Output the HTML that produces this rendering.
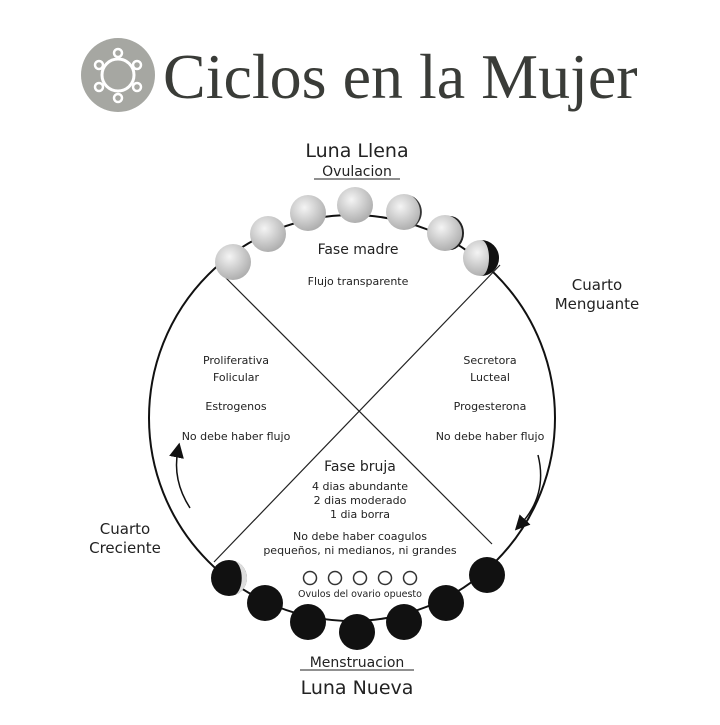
<!DOCTYPE html>
<html><head><meta charset="utf-8"><style>
body{margin:0;width:720px;height:720px;background:#fff;overflow:hidden}
svg text{font-family:"DejaVu Sans","Liberation Sans",sans-serif;fill:#222}
</style></head><body>
<svg width="720" height="720" viewBox="0 0 720 720">
<defs>
<radialGradient id="g" cx="0.4" cy="0.35" r="0.7"><stop offset="0" stop-color="#f4f4f4"/><stop offset="1" stop-color="#aaa"/></radialGradient>
<marker id="ah" markerWidth="10" markerHeight="10" refX="5" refY="5" orient="auto"><path d="M0,0 L10,5 L0,10 z" fill="#111"/></marker>
</defs>
<!-- logo -->
<circle cx="118" cy="75" r="37" fill="#a6a7a2"/>
<circle cx="118" cy="75" r="16" fill="none" stroke="#fff" stroke-width="3"/>
<g fill="none" stroke="#fff" stroke-width="2.5">
<circle cx="118" cy="53" r="4"/><circle cx="137" cy="65" r="4"/><circle cx="137" cy="87" r="4"/>
<circle cx="118" cy="98" r="4"/><circle cx="99" cy="87" r="4"/><circle cx="99" cy="65" r="4"/>
</g>
<text x="163" y="98" style="font-family:'Liberation Serif',serif;font-size:64px;fill:#3a3c38">Ciclos en la Mujer</text>
<!-- circle -->
<circle cx="352" cy="418" r="203" fill="none" stroke="#111" stroke-width="2"/>
<line x1="218" y1="270" x2="492" y2="544" stroke="#222" stroke-width="1.2"/>
<line x1="500" y1="265" x2="214" y2="562" stroke="#222" stroke-width="1.2"/>
<g fill="url(#g)">
<circle cx="233" cy="262" r="18"/><circle cx="268" cy="234" r="18"/><circle cx="308" cy="213" r="18"/>
<circle cx="355" cy="205" r="18"/><circle cx="404" cy="212" r="18"/><circle cx="445" cy="233" r="18"/><circle cx="481" cy="258" r="18"/>
</g>
<path d="M412,196 A18,18 0 0 1 412,228 A20,20 0 0 0 412,196z" fill="#333"/>
<path d="M450,216 A18,18 0 0 1 450,250 A14,17 0 0 0 450,216z" fill="#222"/>
<path d="M481,240 A18,18 0 0 1 481,276 A8,18 0 0 0 481,240z" fill="#111"/>
<g fill="#111">
<circle cx="229" cy="578" r="18"/><circle cx="265" cy="603" r="18"/><circle cx="308" cy="622" r="18"/>
<circle cx="357" cy="632" r="18"/><circle cx="404" cy="622" r="18"/><circle cx="446" cy="603" r="18"/><circle cx="487" cy="575" r="18"/>
</g>
<path d="M235,561 A18,18 0 0 1 235,595 A10,18 0 0 0 235,561z" fill="#ddd"/>
<g fill="none" stroke="#333" stroke-width="1.5">
<circle cx="310" cy="578" r="6.5"/><circle cx="335" cy="578" r="6.5"/><circle cx="360" cy="578" r="6.5"/><circle cx="385" cy="578" r="6.5"/><circle cx="410" cy="578" r="6.5"/>
</g>
<path d="M190,508 Q172,480 178,450" fill="none" stroke="#111" stroke-width="1.5" marker-end="url(#ah)"/>
<path d="M538,455 Q548,495 520,525" fill="none" stroke="#111" stroke-width="1.5" marker-end="url(#ah)"/>
<!-- text -->
<g text-anchor="middle">
<text x="357" y="157" font-size="19">Luna Llena</text>
<text x="357" y="176" font-size="14">Ovulacion</text>
<line x1="314" y1="179" x2="400" y2="179" stroke="#222"/>
<text x="358" y="254" font-size="14">Fase madre</text>
<text x="358" y="285" font-size="11">Flujo transparente</text>
<text x="597" y="290" font-size="15">Cuarto</text>
<text x="597" y="309" font-size="15">Menguante</text>
<text x="236" y="364" font-size="11">Proliferativa</text>
<text x="236" y="381" font-size="11">Folicular</text>
<text x="236" y="410" font-size="11">Estrogenos</text>
<text x="236" y="440" font-size="11">No debe haber flujo</text>
<text x="490" y="364" font-size="11">Secretora</text>
<text x="490" y="381" font-size="11">Lucteal</text>
<text x="490" y="410" font-size="11">Progesterona</text>
<text x="490" y="440" font-size="11">No debe haber flujo</text>
<text x="360" y="471" font-size="14">Fase bruja</text>
<text x="360" y="490" font-size="11">4 dias abundante</text>
<text x="360" y="504" font-size="11">2 dias moderado</text>
<text x="360" y="518" font-size="11">1 dia borra</text>
<text x="360" y="540" font-size="11">No debe haber coagulos</text>
<text x="360" y="554" font-size="11">pequeños, ni medianos, ni grandes</text>
<text x="360" y="597" font-size="9.5">Ovulos del ovario opuesto</text>
<text x="125" y="534" font-size="15">Cuarto</text>
<text x="125" y="553" font-size="15">Creciente</text>
<text x="357" y="667" font-size="14">Menstruacion</text>
<line x1="300" y1="670" x2="414" y2="670" stroke="#222"/>
<text x="357" y="694" font-size="19">Luna Nueva</text>
</g>
</svg>
</body></html>
